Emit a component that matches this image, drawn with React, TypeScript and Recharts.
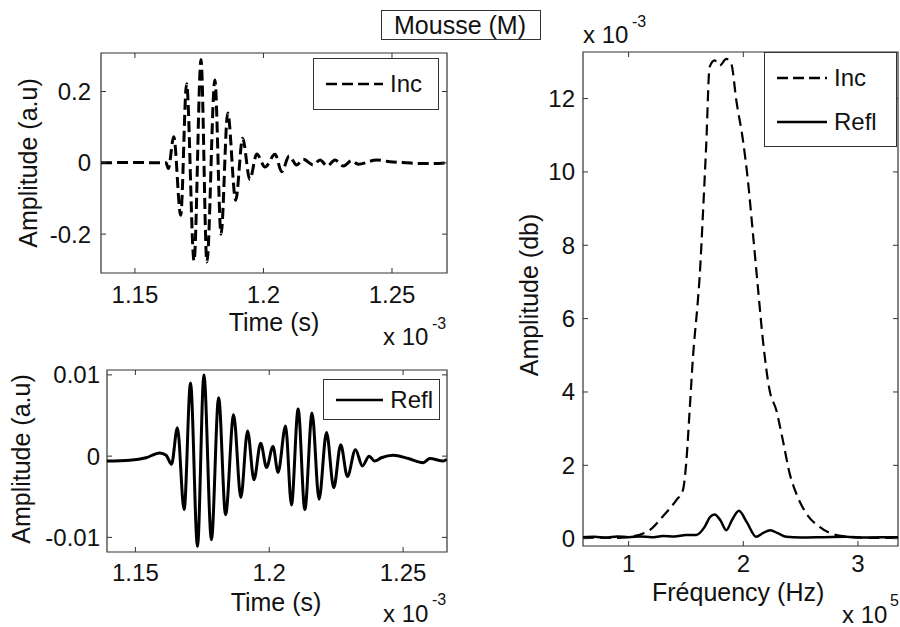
import React from "react";
import { LineChart, Line, XAxis, YAxis, ReferenceArea, Legend } from "recharts";

// top-left: incident pulse (time in 1e-3 s)
const incTime = [
  1.1368, 1.15, 1.16, 1.1621, 1.163, 1.1651, 1.1678, 1.1701, 1.173, 1.1757,
  1.178, 1.1811, 1.1835, 1.1861, 1.1892, 1.1919, 1.1947, 1.1974, 1.2006, 1.2045,
  1.2071, 1.21, 1.2129, 1.2155, 1.2194, 1.222, 1.2248, 1.2278, 1.2311, 1.2343,
  1.2369, 1.244, 1.2492, 1.2557, 1.2609, 1.2661, 1.2714,
];
const incAmp = [
  0, 0.001, 0, 0, -0.016, 0.073, -0.147, 0.222, -0.275, 0.29,
  -0.278, 0.232, -0.2, 0.14, -0.105, 0.069, -0.047, 0.025, -0.012, 0.024,
  -0.025, 0.019, -0.006, 0.01, -0.006, 0.008, -0.009, 0.008, -0.009, 0.006,
  -0.004, 0.008, 0.003, 0, -0.002, -0.002, 0,
];

// bottom-left: reflected pulse
const reflTime = [
  1.1394, 1.1479, 1.154, 1.1591, 1.1615, 1.1635, 1.1657, 1.1682, 1.1706, 1.1732,
  1.1756, 1.1784, 1.1811, 1.1837, 1.1867, 1.1894, 1.1919, 1.1943, 1.1968, 1.199,
  1.2014, 1.2033, 1.2061, 1.2083, 1.2108, 1.2133, 1.216, 1.2186, 1.2214, 1.2241,
  1.2267, 1.2292, 1.2322, 1.2348, 1.2373, 1.2394, 1.2419, 1.2463, 1.252, 1.2575,
  1.26, 1.265, 1.2663,
];
const reflAmp = [
  -0.0006, -0.0005, -0.0002, 0.0004, 0.0001, -0.001, 0.0035, -0.0066, 0.009, -0.0111,
  0.01, -0.0103, 0.0072, -0.0072, 0.0051, -0.0051, 0.0031, -0.0029, 0.0016, -0.0014,
  0.0012, -0.002, 0.0037, -0.006, 0.0058, -0.0066, 0.0053, -0.0053, 0.0029, -0.0039,
  0.0014, -0.0025, 0.0008, -0.0012, 0, -0.0006, -0.0002, 0.0001, -0.0003, -0.0008,
  -0.0003, -0.0006, -0.0004,
];

// right: spectra (frequency in 1e5 Hz, amplitude in 1e-3)
const incFreq = [
  0.602, 0.75, 0.9, 1.009, 1.183, 1.296, 1.416, 1.473, 1.503, 1.532,
  1.561, 1.604, 1.619, 1.648, 1.677, 1.706, 1.75, 1.793, 1.852, 1.895,
  1.939, 1.997, 2.04, 2.084, 2.127, 2.171, 2.229, 2.288, 2.345, 2.404,
  2.462, 2.549, 2.665, 2.811, 3.043, 3.2, 3.349,
];
const incSpec = [
  0.02, 0.03, 0.02, 0.05, 0.23, 0.6, 1.05, 1.32, 2.1, 3.5,
  4.95, 6.5, 7.13, 8.86, 10.77, 12.86, 13.04, 12.9, 13.08, 12.95,
  11.95, 10.86, 9.77, 8.32, 6.86, 5.41, 4.05, 3.5, 2.68, 1.78,
  1.23, 0.69, 0.32, 0.1, 0.03, 0.02, 0.02,
];
const reflFreq = [
  0.602, 0.7, 0.8, 0.9, 1.0, 1.1, 1.2, 1.3, 1.4, 1.5,
  1.59, 1.663, 1.71, 1.75, 1.8, 1.852, 1.9, 1.962, 2.03, 2.113,
  2.17, 2.235, 2.3, 2.375, 2.5, 2.7, 2.9, 3.0, 3.2, 3.349,
];
const reflSpec = [
  0.04, 0.05, 0.03, 0.06, 0.04, 0.06, 0.04, 0.07, 0.06, 0.1,
  0.1, 0.32, 0.59, 0.66, 0.5, 0.23, 0.5, 0.76, 0.45, 0.05,
  0.15, 0.23, 0.15, 0.05, 0.03, 0.04, 0.05, 0.03, 0.04, 0.04,
];

const timeTicks = [1.15, 1.2, 1.25];
const incTicks = [-0.2, 0, 0.2];
const reflTicks = [-0.01, 0, 0.01];
const freqTicks = [1, 2, 3];
const specTicks = [0, 2, 4, 6, 8, 10, 12];

const zip = (xs: number[], ys: number[]) => xs.map((x, i) => ({ x, y: ys[i] }));

const FONT = '"Liberation Sans", Arial, Helvetica, sans-serif';
const AX = "#333";
const TXT = "#111";
const W = 900;
const H = 627;
const YW = 60; // y axis band width
const XH = 30; // x axis band height

type Box = { left: number; right: number; top: number; bottom: number };
const TL: Box = { left: 101, right: 447, top: 53, bottom: 273 };
const BL: Box = { left: 107, right: 447, top: 370, bottom: 552 };
const RT: Box = { left: 583, right: 898, top: 52, bottom: 546 };

const marginOf = (b: Box) => ({ top: b.top, left: b.left - YW, right: W - b.right, bottom: H - b.bottom - XH });

const yTick = (b: Box, gap: number) => (props: any) => {
  const { y, payload } = props;
  return (
    <g>
      <line x1={b.left} x2={b.left + 5} y1={y} y2={y} stroke={AX} />
      <line x1={b.right - 5} x2={b.right} y1={y} y2={y} stroke={AX} />
      <text x={b.left - gap} y={y} textAnchor="end" dominantBaseline="central" fontSize={24} fontFamily={FONT} fill={TXT}>
        {String(payload.value)}
      </text>
    </g>
  );
};

const xTick = (b: Box, dy: number) => (props: any) => {
  const { x, payload } = props;
  return (
    <g>
      <line x1={x} x2={x} y1={b.bottom} y2={b.bottom - 5} stroke={AX} />
      <line x1={x} x2={x} y1={b.top} y2={b.top + 5} stroke={AX} />
      <text x={x} y={b.bottom + dy} textAnchor="middle" dominantBaseline="central" fontSize={24} fontFamily={FONT} fill={TXT}>
        {String(payload.value)}
      </text>
    </g>
  );
};

const dashes: Record<string, string | undefined> = { Inc: "11 5", Refl: undefined };

const BoxLegend = ({ payload, lineW, rowH }: any) => (
  <div style={{ border: `1px solid ${AX}`, background: "#fff", boxSizing: "border-box", height: "100%", padding: "0 6px 0 12px", display: "flex", flexDirection: "column", justifyContent: "center" }}>
    {(payload || []).map((e: any) => (
      <div key={e.value} style={{ display: "flex", alignItems: "center", height: rowH }}>
        <svg width={lineW} height={10} style={{ marginRight: 7 }}>
          <line x1={0} x2={lineW} y1={5} y2={5} stroke="#000" strokeWidth={2.5} strokeDasharray={dashes[e.value]} />
        </svg>
        <span style={{ fontFamily: FONT, fontSize: 24, color: TXT, lineHeight: 1 }}>{e.value}</span>
      </div>
    ))}
  </div>
);

const layer: React.CSSProperties = { position: "absolute", left: 0, top: 0 };

export default function App() {
  return (
    <div style={{ position: "absolute", left: 0, top: 0, width: W, height: H, background: "#fff", overflow: "hidden" }}>
      {/* incident */}
      <div style={layer}>
        <LineChart width={W} height={H} margin={marginOf(TL)}>
          <XAxis dataKey="x" type="number" domain={[1.1368, 1.2714]} allowDataOverflow ticks={timeTicks} interval={0} height={XH} axisLine={false} tickLine={false} tick={xTick(TL, 21)} />
          <YAxis type="number" domain={[-0.309, 0.308]} allowDataOverflow ticks={incTicks} interval={0} width={YW} axisLine={false} tickLine={false} tick={yTick(TL, 10)} />
          <ReferenceArea x1={1.1368} x2={1.2714} y1={-0.309} y2={0.308} fill="none" stroke={AX} strokeWidth={1.2} />
          <Line data={zip(incTime, incAmp)} dataKey="y" name="Inc" type="monotone" stroke="#000" strokeWidth={3} strokeDasharray="11 5" dot={false} isAnimationActive={false} />
          <Legend layout="horizontal" verticalAlign="middle" align="center" wrapperStyle={{ position: "absolute", left: 313, top: 58, width: 126, height: 52 }} content={(p: any) => <BoxLegend {...p} lineW={57} rowH={40} />} />
        </LineChart>
      </div>

      {/* reflected */}
      <div style={layer}>
        <LineChart width={W} height={H} margin={marginOf(BL)}>
          <XAxis dataKey="x" type="number" domain={[1.1394, 1.2664]} allowDataOverflow ticks={timeTicks} interval={0} height={XH} axisLine={false} tickLine={false} tick={xTick(BL, 20)} />
          <YAxis type="number" domain={[-0.0118, 0.0106]} allowDataOverflow ticks={reflTicks} interval={0} width={YW} axisLine={false} tickLine={false} tick={yTick(BL, 7)} />
          <ReferenceArea x1={1.1394} x2={1.2664} y1={-0.0118} y2={0.0106} fill="none" stroke={AX} strokeWidth={1.2} />
          <Line data={zip(reflTime, reflAmp)} dataKey="y" name="Refl" type="monotone" stroke="#000" strokeWidth={3} dot={false} isAnimationActive={false} />
          <Legend layout="horizontal" verticalAlign="middle" align="center" wrapperStyle={{ position: "absolute", left: 323, top: 379, width: 117, height: 41 }} content={(p: any) => <BoxLegend {...p} lineW={50} rowH={36} />} />
        </LineChart>
      </div>

      {/* spectra */}
      <div style={layer}>
        <LineChart width={W} height={H} margin={marginOf(RT)}>
          <XAxis dataKey="x" type="number" domain={[0.602, 3.349]} allowDataOverflow ticks={freqTicks} interval={0} height={XH} axisLine={false} tickLine={false} tick={xTick(RT, 17)} />
          <YAxis type="number" domain={[-0.2, 13.27]} allowDataOverflow ticks={specTicks} interval={0} width={YW} axisLine={false} tickLine={false} tick={yTick(RT, 8)} />
          <ReferenceArea x1={0.602} x2={3.349} y1={-0.2} y2={13.27} fill="none" stroke={AX} strokeWidth={1.2} />
          <Line data={zip(incFreq, incSpec)} dataKey="y" name="Inc" type="monotone" stroke="#000" strokeWidth={2.2} strokeDasharray="11 6" dot={false} isAnimationActive={false} />
          <Line data={zip(reflFreq, reflSpec)} dataKey="y" name="Refl" type="monotone" stroke="#000" strokeWidth={2.5} dot={false} isAnimationActive={false} />
          <Legend layout="horizontal" verticalAlign="middle" align="center" wrapperStyle={{ position: "absolute", left: 764, top: 52, width: 133, height: 95 }} content={(p: any) => <BoxLegend {...p} lineW={50} rowH={44} />} />
        </LineChart>
      </div>

      {/* titles and axis labels */}
      <svg width={W} height={H} style={{ ...layer, pointerEvents: "none" }} fontFamily={FONT} fill={TXT}>
        <rect x={381.5} y={10.5} width={159} height={29} fill="none" stroke={AX} />
        <text x={460} y={34} fontSize={25} textAnchor="middle">Mousse (M)</text>

        <text transform="translate(37,163) rotate(-90)" fontSize={25} textAnchor="middle">Amplitude (a.u)</text>
        <text transform="translate(30,459) rotate(-90)" fontSize={25} textAnchor="middle">Amplitude (a.u)</text>
        <text transform="translate(538,295) rotate(-90)" fontSize={25} textAnchor="middle">Amplitude (db)</text>

        <text x={274} y={331} fontSize={25} textAnchor="middle">Time (s)</text>
        <text x={383} y={345} fontSize={24}>x 10</text>
        <text x={432} y={329} fontSize={16}>-3</text>

        <text x={276} y={611} fontSize={25} textAnchor="middle">Time (s)</text>
        <text x={383} y={622} fontSize={24}>x 10</text>
        <text x={432} y={605} fontSize={16}>-3</text>

        <text x={583} y={43} fontSize={24}>x 10</text>
        <text x={632} y={27} fontSize={16}>-3</text>

        <text x={652} y={601} fontSize={25}>Fréquency (Hz)</text>
        <text x={842} y={623} fontSize={24}>x 10</text>
        <text x={890} y={606} fontSize={16}>5</text>
      </svg>
    </div>
  );
}
